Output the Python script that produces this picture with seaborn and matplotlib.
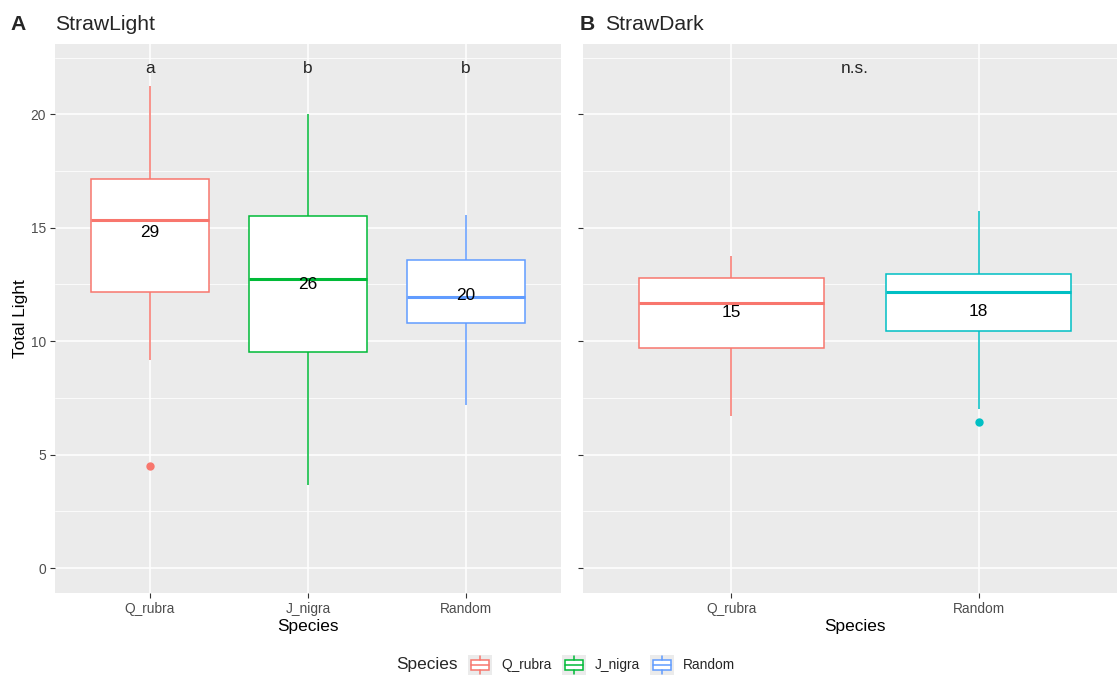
import matplotlib
matplotlib.use("Agg")
import matplotlib.pyplot as plt
import numpy as np
import pandas as pd
import seaborn as sns
from matplotlib.legend_handler import HandlerBase
from matplotlib.patches import Rectangle, Patch
from matplotlib.lines import Line2D

# ---- data -------------------------------------------------------------
species_light = ["Q_rubra", "J_nigra", "Random"]
species_dark = ["Q_rubra", "Random"]

# observations per species (total light)
light_q_rubra = [4.5, 9.18, 12.19, 12.19, 15.36, 17.17, 17.17, 21.24, 21.24]
light_j_nigra = [3.66, 9.54, 12.72, 15.54, 20.0]
light_random = [7.2, 10.82, 11.96, 13.6, 15.58]
dark_q_rubra = [6.71, 9.71, 11.7, 12.8, 13.77]
dark_random = [6.45, 7.02, 10.46, 10.46, 12.19, 12.94, 12.94, 15.76, 15.76]

# sample sizes and group means (used for the count labels)
n_light = [29, 26, 20]
n_dark = [15, 18]
mean_light = [14.8, 12.5, 12.0]
mean_dark = [11.25, 11.3]

# significance letters
letters_light = ["a", "b", "b"]
letters_dark = ["n.s."]
letter_y = 22

y_ticks = [0, 5, 10, 15, 20]

colors_light = ["#F8766D", "#00BA38", "#619CFF"]
colors_dark = ["#F8766D", "#00BFC4"]

# ---- style ------------------------------------------------------------
sns.set_theme(style="darkgrid")
plt.rcParams["font.family"] = ["Liberation Sans", "DejaVu Sans"]
plt.rcParams["axes.facecolor"] = "#EBEBEB"

TICK_FS = 9.9
LAB_FS = 12.4
TITLE_FS = 15.2

fig = plt.figure(figsize=(11.17, 6.75), dpi=100)
W, H = 1117, 675
axA = fig.add_axes([55 / W, 82 / H, 506 / W, 549 / H])
axB = fig.add_axes([583 / W, 82 / H, 544 / W, 549 / H])


def draw_panel(ax, species, values, colors, counts, means):
    df = pd.concat(
        [pd.DataFrame({"Species": s, "Total Light": v}) for s, v in zip(species, values)],
        ignore_index=True,
    )
    for s, c in zip(species, colors):
        sns.boxplot(
            data=df[df["Species"] == s], x="Species", y="Total Light", order=species,
            color="white", linecolor=c, linewidth=1.1, width=0.75, showcaps=False,
            medianprops={"linewidth": 2.2, "color": c},
            flierprops={"marker": "o", "markerfacecolor": c, "markeredgecolor": c,
                        "markersize": 5},
            ax=ax,
        )
    for i, (n, m) in enumerate(zip(counts, means)):
        ax.text(i, m, str(n), ha="center", va="center", fontsize=LAB_FS, color="black",
                zorder=5)

    ax.set_xlim(-0.6, len(species) - 0.4)
    ax.set_ylim(-1.1, 23.1)
    ax.set_yticks(y_ticks)
    ax.set_yticks(np.arange(2.5, 23, 5), minor=True)
    ax.set_axisbelow(True)
    ax.grid(which="major", axis="both", color="white", linewidth=1.1)
    ax.grid(which="minor", axis="y", color="white", linewidth=0.55)
    ax.grid(which="minor", axis="x", visible=False)
    for sp in ax.spines.values():
        sp.set_visible(False)
    ax.tick_params(axis="both", which="major", left=True, bottom=True, length=3.5,
                   width=0.8, color="#333333", labelcolor="#4D4D4D",
                   labelsize=TICK_FS, pad=3)
    ax.tick_params(axis="both", which="minor", length=0)
    ax.set_xlabel("Species", fontsize=LAB_FS, labelpad=2, color="black")


draw_panel(axA, species_light, [light_q_rubra, light_j_nigra, light_random],
           colors_light, n_light, mean_light)
draw_panel(axB, species_dark, [dark_q_rubra, dark_random],
           colors_dark, n_dark, mean_dark)

for i, t in enumerate(letters_light):
    axA.text(i, letter_y, t, ha="center", va="center", fontsize=LAB_FS)
axB.text(0.5, letter_y, letters_dark[0], ha="center", va="center", fontsize=LAB_FS)

axA.set_ylabel("Total Light", fontsize=LAB_FS, labelpad=2, color="black")
axB.set_ylabel("")
axB.tick_params(axis="y", labelleft=False)

# panel titles
ty = 1 - 24 / H
fig.text(18 / W, ty, "A", fontsize=TITLE_FS, weight="bold", ha="center", va="center")
fig.text(55 / W, ty, "StrawLight", fontsize=TITLE_FS, ha="left", va="center")
fig.text(587 / W, ty, "B", fontsize=TITLE_FS, weight="bold", ha="center", va="center")
fig.text(605 / W, ty, "StrawDark", fontsize=TITLE_FS, ha="left", va="center")


# legend with boxplot-shaped keys
class BoxKey(HandlerBase):
    def create_artists(self, legend, orig, xd, yd, w, h, fontsize, trans):
        c = orig.get_edgecolor()
        x0, y0 = -xd, -yd
        bg = Rectangle((x0, y0), w, h, facecolor="#EBEBEB", edgecolor="none",
                       transform=trans)
        box = Rectangle((x0 + 0.12 * w, y0 + 0.25 * h), 0.76 * w, 0.5 * h,
                        facecolor="white", edgecolor=c, linewidth=1.1, transform=trans)
        med = Line2D([x0 + 0.12 * w, x0 + 0.88 * w], [y0 + 0.5 * h] * 2, color=c,
                     linewidth=1.1, transform=trans)
        wt = Line2D([x0 + 0.5 * w] * 2, [y0 + 0.75 * h, y0 + 0.95 * h], color=c,
                    linewidth=1.1, transform=trans)
        wb = Line2D([x0 + 0.5 * w] * 2, [y0 + 0.05 * h, y0 + 0.25 * h], color=c,
                    linewidth=1.1, transform=trans)
        return [bg, box, med, wt, wb]


handles = [Patch(facecolor="white", edgecolor=c, label=s)
           for s, c in zip(species_light, colors_light)]
ly = 1 - 665 / H
fig.text(396 / W, ly, "Species", fontsize=LAB_FS, ha="left", va="center")
fig.legend(handles=handles, handler_map={Patch: BoxKey()}, loc="center left",
           bbox_to_anchor=(468 / W, ly), ncol=3, frameon=False, fontsize=TICK_FS,
           handlelength=1.75, handleheight=1.75, columnspacing=0.75, handletextpad=0.65,
           borderpad=0, borderaxespad=0)

fig.savefig("out.png", dpi=100, facecolor="white")
